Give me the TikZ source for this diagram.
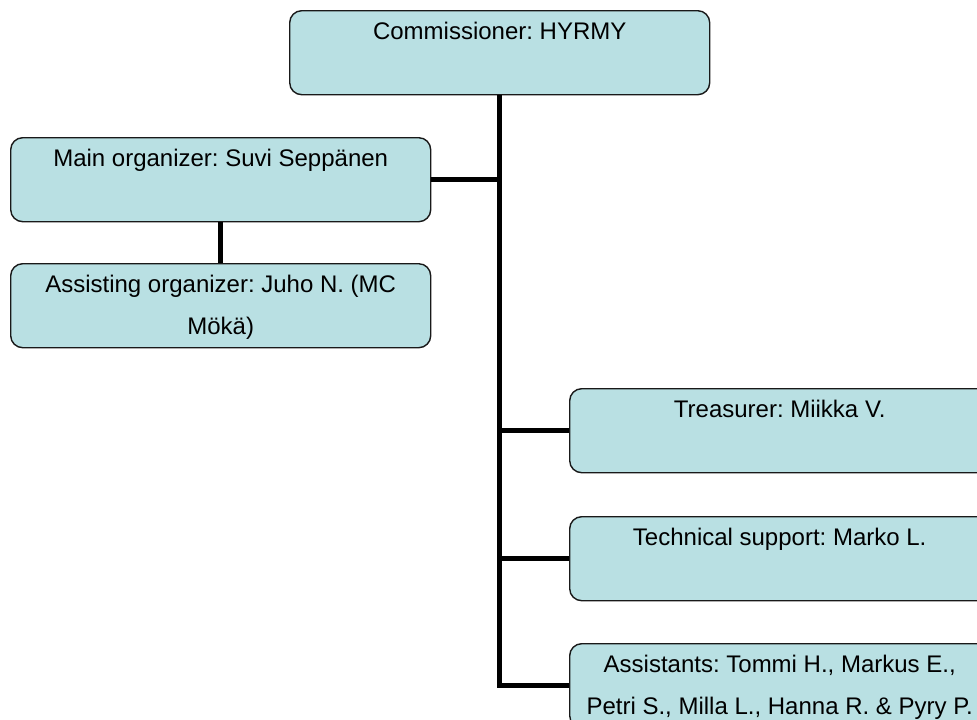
\documentclass[tikz,border=0pt]{standalone}
\usepackage{fontspec}
\setmainfont{Liberation Sans}
\frenchspacing
\definecolor{boxfill}{RGB}{185,224,227}
\begin{document}
\begin{tikzpicture}[x=1pt,y=-1pt,
  box/.style={draw=black!90, line width=1.4pt, fill=boxfill, rounded corners=12pt,
    minimum width=420pt, minimum height=84pt, inner sep=0pt, anchor=north west},
  txt/.style={anchor=north, inner sep=0pt, align=center, font=\fontsize{24}{42}\selectfont},
  conn/.style={line width=5.5pt}]
\useasboundingbox (0,0) rectangle (977,720);
\clip (0,0) rectangle (977,720);
% boxes
\node[box] (comm) at (289,10) {};
\node[box] (main) at (10,137) {};
\node[box] (assist) at (10,263) {};
\node[box] (treas) at (569,388) {};
\node[box] (tech) at (569,516) {};
\node[box] (asst) at (569,643) {};
% texts
\node[txt] (commt) at (comm.north) {\strut Commissioner: HYRMY};
\node[txt] (maint) at (main.north) {\strut Main organizer: Suvi Seppänen};
\node[txt] (assistt) at (assist.north) {\strut Assisting organizer: Juho N. (MC\\Mökä)};
\node[txt] (treast) at (treas.north) {\strut Treasurer: Miikka V.};
\node[txt] (techt) at (tech.north) {\strut Technical support: Marko L.};
\node[txt] (asstt) at (asst.north) {\strut Assistants: Tommi H., Markus E.,\\Petri S., Milla L., Hanna R. \& Pyry P.};
% connectors
\draw[conn] (comm.south) -- (comm.south |- asst.west) -- (asst.west);
\draw[conn] (main.east) -- (main.east -| comm.south);
\draw[conn] (treas.west) -- (treas.west -| comm.south);
\draw[conn] (tech.west) -- (tech.west -| comm.south);
\draw[conn] (main.south) -- (assist.north);
\end{tikzpicture}
\end{document}
